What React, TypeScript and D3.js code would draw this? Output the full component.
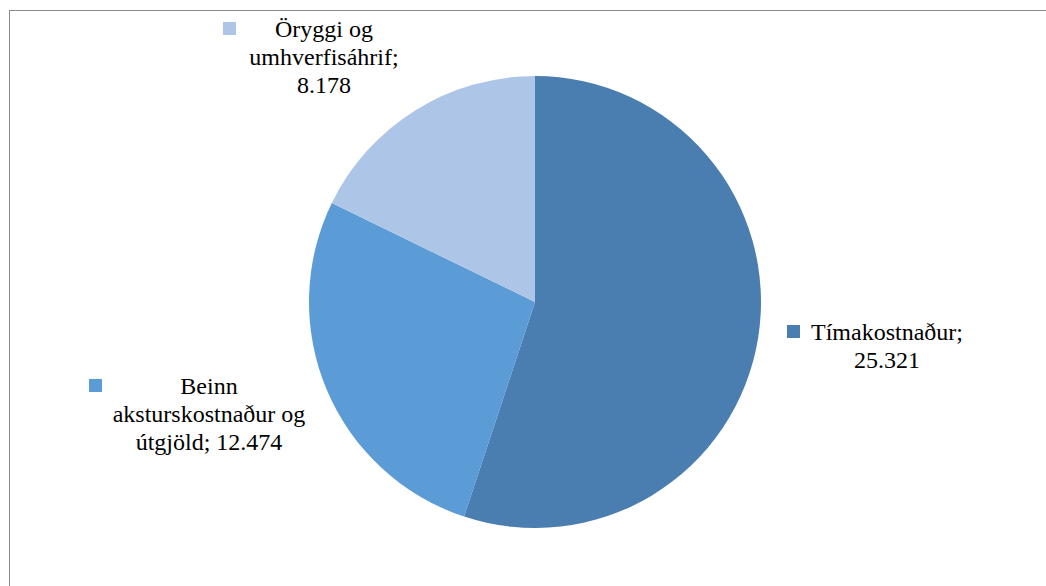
import React from "react";
import * as d3 from "d3";

const categories = ["Tímakostnaður", "Beinn aksturskostnaður og útgjöld", "Öryggi og umhverfisáhrif"];
const values = [25.321, 12.474, 8.178];
const valueLabels = ["25.321", "12.474", "8.178"];
const colors = ["#4a7eb1", "#5b9bd6", "#adc5e7"];

// label layout: lines, center x, first baseline, legend-key x
const labelLayout = [
  { lines: ["Tímakostnaður;", valueLabels[0]], cx: 887, y: 340, sx: 787 },
  { lines: ["Beinn", "aksturskostnaður og", "útgjöld; " + valueLabels[1]], cx: 209, y: 394, sx: 89 },
  { lines: ["Öryggi og", "umhverfisáhrif;", valueLabels[2]], cx: 324, y: 37, sx: 223 },
];

export default function App() {
  const W = 1046, H = 586;
  const cx = 535, cy = 302, r = 226;
  const pie = d3.pie<number>().sort(null).value((d) => d)(values);
  const arc = d3.arc<d3.PieArcDatum<number>>().innerRadius(0).outerRadius(r);
  return (
    <svg width={W} height={H} style={{ position: "absolute", left: 0, top: 0 }}>
      <style>{`.lbl{font-family:"Liberation Serif";font-size:24px;fill:#000}`}</style>
      <rect x={9.5} y={10.5} width={W + 10} height={H + 10} fill="white" stroke="#8c8c8c" strokeWidth={1} />
      <g transform={`translate(${cx},${cy})`}>
        {pie.map((p, i) => (
          <path key={categories[i]} d={arc(p) || ""} fill={colors[i]} />
        ))}
      </g>
      {labelLayout.map((l, i) => (
        <g key={i}>
          <rect x={l.sx} y={l.y - 15} width={13} height={13} fill={colors[i]} />
          {l.lines.map((t, j) => (
            <text key={j} className="lbl" x={l.cx} y={l.y + j * 28} textAnchor="middle">
              {t}
            </text>
          ))}
        </g>
      ))}
    </svg>
  );
}
